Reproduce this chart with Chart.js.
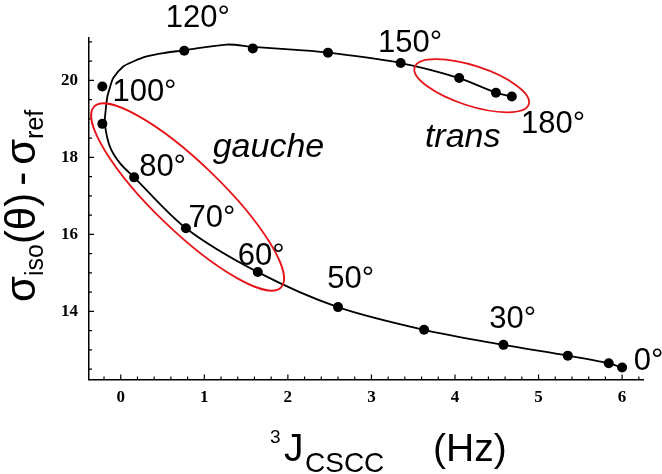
<!DOCTYPE html>
<html>
<head>
<meta charset="utf-8">
<script src="https://cdn.jsdelivr.net/npm/chart.js@4.4.0/dist/chart.umd.min.js"></script>
<style>
  html, body { margin: 0; padding: 0; background: #fff; }
  #wrap { position: relative; width: 662px; height: 474px; }
</style>
</head>
<body>
<div id="wrap"><canvas id="shiftChart"></canvas></div>
<script>
// computed points: 3J(CSCC) coupling against isotropic shielding
const jValues = [6.00, 5.84, 5.35, 4.58, 3.63, 2.60, 1.64, 0.78, 0.16, -0.22, -0.22, 0.76, 1.58, 2.48, 3.35, 4.05, 4.49, 4.68];
const sigmaValues = [12.54, 12.65, 12.85, 13.13, 13.52, 14.11, 15.02, 16.16, 17.48, 18.87, 19.84, 20.77, 20.83, 20.72, 20.45, 20.06, 19.68, 19.58];

// fitted curve
const fitJ = [6.00, 5.84, 5.35, 4.58, 3.63, 2.60, 1.64, 0.78, 0.16, -0.01, -0.13, -0.19, -0.18, -0.16, -0.13, -0.09, 0.03, 0.15, 0.31, 0.51, 0.76, 1.27, 1.58, 2.10, 2.48, 3.35, 4.05, 4.49, 4.68];
const fitSigma = [12.54, 12.65, 12.85, 13.13, 13.52, 14.11, 15.02, 16.16, 17.48, 17.85, 18.28, 18.87, 19.23, 19.58, 19.81, 20.06, 20.36, 20.49, 20.62, 20.71, 20.78, 20.93, 20.87, 20.79, 20.72, 20.45, 20.06, 19.68, 19.58];

const xTicks = [0, 1, 2, 3, 4, 5, 6];
const yTicks = [14, 16, 18, 20];

const angleLabels = ['120°', '150°', '100°', '80°', '70°', '60°', '50°', '30°', '0°', '180°'];
const regionLabels = ['gauche', 'trans'];

// where the annotations sit (data units: left edge, baseline)
const angleAnchors = [[0.54, 21.39], [3.08, 20.74], [-0.10, 19.47], [0.22, 17.52], [0.81, 16.19],
                      [1.40, 15.20], [2.47, 14.60], [4.41, 13.58], [6.14, 12.48], [4.79, 18.64]];
const regionAnchors = [[1.10, 18.01], [3.64, 18.27]];
const ellipses = [
  { cx: 0.80, cy: 16.97, rx: 130, ry: 34, rot: 44 },
  { cx: 4.20, cy: 19.86, rx: 60, ry: 20, rot: 18 }
];

function drawRuns(ctx, runs, x0, y0) {
  let x = x0;
  runs.forEach(r => {
    x += r.gap || 0;
    ctx.font = r.font;
    ctx.fillText(r.text, x, y0 + (r.dy || 0));
    x += ctx.measureText(r.text).width;
  });
}

const decorations = {
  id: 'decorations',
  afterDraw(chart) {
    const ctx = chart.ctx;
    const x = chart.scales.x, y = chart.scales.y;
    const left = chart.chartArea.left, bottom = chart.chartArea.bottom;
    ctx.save();

    // inward ticks, minor and major
    ctx.strokeStyle = '#000';
    ctx.lineWidth = 1.2;
    ctx.beginPath();
    for (let i = -1; i <= 31; i++) {
      const v = i * 0.2;
      if (v < x.min || v > x.max) continue;
      const px = x.getPixelForValue(v);
      const len = (i % 5 === 0) ? 5 : 3;
      ctx.moveTo(px, bottom);
      ctx.lineTo(px, bottom - len);
    }
    for (let i = 25; i <= 42; i++) {
      const v = i * 0.5;
      if (v < y.min || v > y.max) continue;
      const py = y.getPixelForValue(v);
      const len = (i % 4 === 0) ? 5 : 3;
      ctx.moveTo(left, py);
      ctx.lineTo(left + len, py);
    }
    ctx.stroke();

    // red ellipses
    ctx.strokeStyle = 'rgb(230,20,25)';
    ctx.lineWidth = 1.8;
    ellipses.forEach(e => {
      ctx.beginPath();
      ctx.ellipse(x.getPixelForValue(e.cx), y.getPixelForValue(e.cy), e.rx, e.ry, e.rot * Math.PI / 180, 0, 2 * Math.PI);
      ctx.stroke();
    });

    // angle labels
    ctx.fillStyle = '#000';
    ctx.textBaseline = 'alphabetic';
    ctx.textAlign = 'left';
    ctx.font = '31px "Liberation Sans", Arial, sans-serif';
    angleLabels.forEach((t, i) => {
      ctx.fillText(t, x.getPixelForValue(angleAnchors[i][0]), y.getPixelForValue(angleAnchors[i][1]));
    });
    ctx.font = 'italic 34px "Liberation Sans", Arial, sans-serif';
    regionLabels.forEach((t, i) => {
      ctx.fillText(t, x.getPixelForValue(regionAnchors[i][0]), y.getPixelForValue(regionAnchors[i][1]));
    });

    // axis titles
    const big = '42px "Liberation Sans", Arial, sans-serif';
    const sub = '25px "Liberation Sans", Arial, sans-serif';
    ctx.save();
    ctx.translate(35, 302);
    ctx.rotate(-Math.PI / 2);
    drawRuns(ctx, [
      { text: 'σ', font: big },
      { text: 'iso', font: sub, dy: 8 },
      { text: '(θ)', font: big },
      { text: '-', font: big, gap: 7 },
      { text: 'σ', font: big, gap: 7 },
      { text: 'ref', font: sub, dy: 8 }
    ], 0, 0);
    ctx.restore();

    ctx.font = '19px "Liberation Sans", Arial, sans-serif';
    ctx.fillText('3', 270, 443);
    ctx.font = '39px "Liberation Sans", Arial, sans-serif';
    ctx.fillText('J', 284, 461);
    ctx.fillText('(Hz)', 433, 461);
    ctx.font = '28px "Liberation Sans", Arial, sans-serif';
    ctx.fillText('CSCC', 305, 472);

    ctx.restore();
  }
};

const tickFont = { family: '"Liberation Serif", "Times New Roman", serif', size: 17, weight: 'bold' };

new Chart(document.getElementById('shiftChart'), {
  type: 'scatter',
  data: {
    datasets: [
      {
        label: 'computed',
        data: jValues.map((v, i) => ({ x: v, y: sigmaValues[i] })),
        backgroundColor: '#000',
        borderWidth: 0,
        pointRadius: 5,
        showLine: false
      },
      {
        label: 'fit',
        data: fitJ.map((v, i) => ({ x: v, y: fitSigma[i] })),
        showLine: true,
        tension: 0.3,
        borderColor: '#000',
        borderWidth: 1.8,
        pointRadius: 0,
        fill: false
      }
    ]
  },
  options: {
    responsive: true,
    maintainAspectRatio: false,
    animation: false,
    layout: { padding: { left: 0, right: 19, top: 38, bottom: 0 } },
    plugins: { legend: { display: false }, tooltip: { enabled: false } },
    scales: {
      x: {
        type: 'linear',
        position: 'bottom',
        min: -0.38,
        max: 6.25,
        afterBuildTicks: axis => { axis.ticks = xTicks.map(v => ({ value: v })); },
        afterFit: axis => { axis.height = 94.5; },
        grid: { display: false, drawTicks: false },
        border: { display: true, color: '#000', width: 1.5 },
        ticks: { color: '#000', font: tickFont, padding: 8, maxRotation: 0 }
      },
      y: {
        type: 'linear',
        min: 12.23,
        max: 21.1,
        afterBuildTicks: axis => { axis.ticks = yTicks.map(v => ({ value: v })); },
        afterFit: axis => { axis.width = 89; },
        grid: { display: false, drawTicks: false },
        border: { display: true, color: '#000', width: 1.5 },
        ticks: { color: '#000', font: tickFont, padding: 11 }
      }
    }
  },
  plugins: [decorations]
});
</script>
</body>
</html>
